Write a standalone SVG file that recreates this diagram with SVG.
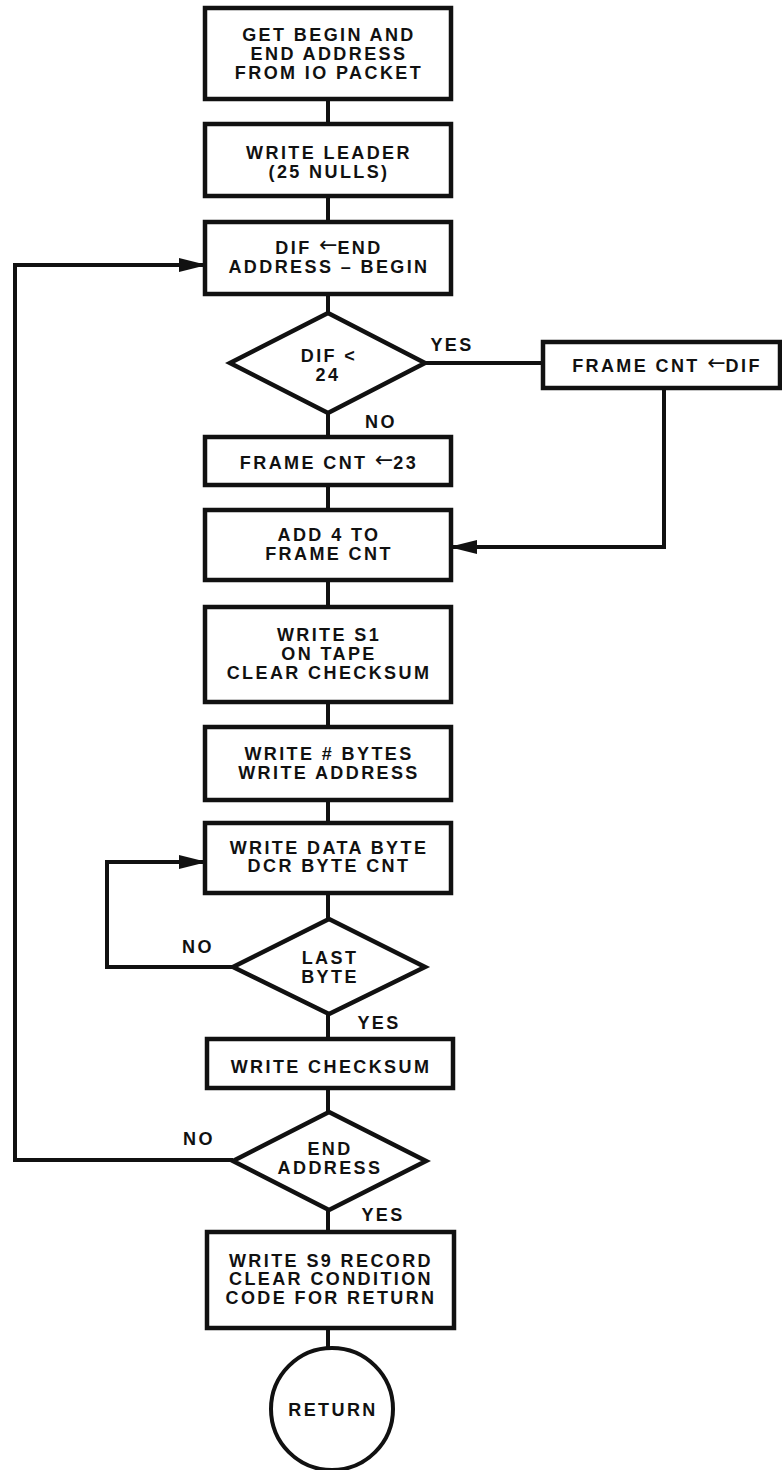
<svg xmlns="http://www.w3.org/2000/svg" width="782" height="1470" viewBox="0 0 782 1470">
<style>
.b{fill:#fff;stroke:#111;stroke-width:4.5;stroke-linejoin:miter}
.c{fill:none;stroke:#111;stroke-width:4}
text{font-family:"Liberation Sans",Arial,sans-serif;font-weight:bold;font-size:18px;letter-spacing:2.4px;fill:#111;text-anchor:middle}
.sm{font-family:"DejaVu Sans",sans-serif;font-weight:normal;font-size:22px;letter-spacing:0}
</style>
<defs>
<marker id="ah" markerUnits="userSpaceOnUse" markerWidth="26" markerHeight="18" refX="24" refY="9" orient="auto">
<path d="M0,2 L24,8 L24,10 L0,16 Z" fill="#111"/>
</marker>
</defs>
<rect width="782" height="1470" fill="#fff"/>
<g id="connectors">
<path class="c" d="M328,99 V124"/>
<path class="c" d="M328,196 V222"/>
<path class="c" d="M328,294 V313"/>
<path class="c" d="M328,413 V437"/>
<path class="c" d="M328,485 V510"/>
<path class="c" d="M328,580 V607"/>
<path class="c" d="M328,702 V727"/>
<path class="c" d="M328,800 V823"/>
<path class="c" d="M328,893 V919"/>
<path class="c" d="M328,1014 V1039"/>
<path class="c" d="M328,1088 V1112"/>
<path class="c" d="M328,1210 V1232"/>
<path class="c" d="M328,1328 V1348"/>
<path class="c" d="M425,363 H543"/>
<path class="c" d="M664,388 V547 H453" marker-end="url(#ah)"/>
<path class="c" d="M233,967 H107 V862 H203" marker-end="url(#ah)"/>
<path class="c" d="M233,1160 H15 V265 H203" marker-end="url(#ah)"/>
</g>
<g id="labels">
<text x="452" y="351">YES</text>
<text x="381" y="428">NO</text>
<text x="198" y="953">NO</text>
<text x="379" y="1029">YES</text>
<text x="199" y="1145">NO</text>
<text x="383" y="1221">YES</text>
</g>
<g id="n1"><rect class="b" x="205" y="8" width="246" height="91"/>
<text x="329" y="41">GET BEGIN AND</text><text x="329" y="60">END ADDRESS</text><text x="329" y="79">FROM IO PACKET</text></g>
<g id="n2"><rect class="b" x="205" y="124" width="246" height="72"/>
<text x="329" y="159">WRITE LEADER</text><text x="329" y="178">(25 NULLS)</text></g>
<g id="n3"><rect class="b" x="205" y="222" width="246" height="72"/>
<text x="329" y="254">DIF <tspan class="sm" dy="-2">←</tspan><tspan dy="2">END</tspan></text><text x="329" y="273">ADDRESS – BEGIN</text></g>
<g id="n4"><polygon class="b" points="328,313 425,363 328,413 230,363"/>
<text x="329" y="362">DIF &lt;</text><text x="328" y="381">24</text></g>
<g id="n5"><rect class="b" x="543" y="342" width="237" height="46"/>
<text x="667" y="372">FRAME CNT <tspan class="sm" dy="-2">←</tspan><tspan dy="2">DIF</tspan></text></g>
<g id="n6"><rect class="b" x="205" y="437" width="246" height="48"/>
<text x="329" y="469">FRAME CNT <tspan class="sm" dy="-2">←</tspan><tspan dy="2">23</tspan></text></g>
<g id="n7"><rect class="b" x="205" y="510" width="246" height="70"/>
<text x="329" y="541">ADD 4 TO</text><text x="329" y="560">FRAME CNT</text></g>
<g id="n8"><rect class="b" x="205" y="607" width="246" height="95"/>
<text x="329" y="641">WRITE S1</text><text x="329" y="660">ON TAPE</text><text x="329" y="679">CLEAR CHECKSUM</text></g>
<g id="n9"><rect class="b" x="205" y="727" width="246" height="73"/>
<text x="329" y="760">WRITE # BYTES</text><text x="329" y="779">WRITE ADDRESS</text></g>
<g id="n10"><rect class="b" x="205" y="823" width="246" height="70"/>
<text x="329" y="854">WRITE DATA BYTE</text><text x="329" y="872">DCR BYTE CNT</text></g>
<g id="n11"><polygon class="b" points="329,919 425,967 329,1014 233,967"/>
<text x="330" y="964">LAST</text><text x="330" y="983">BYTE</text></g>
<g id="n12"><rect class="b" x="207" y="1039" width="246" height="49"/>
<text x="331" y="1073">WRITE CHECKSUM</text></g>
<g id="n13"><polygon class="b" points="329,1112 426,1161 329,1210 233,1161"/>
<text x="330" y="1155">END</text><text x="330" y="1174">ADDRESS</text></g>
<g id="n14"><rect class="b" x="207" y="1232" width="247" height="96"/>
<text x="331" y="1267">WRITE S9 RECORD</text><text x="331" y="1285">CLEAR CONDITION</text><text x="331" y="1304">CODE FOR RETURN</text></g>
<g id="n15"><circle cx="332" cy="1409" r="61" fill="#fff" stroke="#111" stroke-width="4"/>
<text x="333" y="1416">RETURN</text></g>
</svg>
